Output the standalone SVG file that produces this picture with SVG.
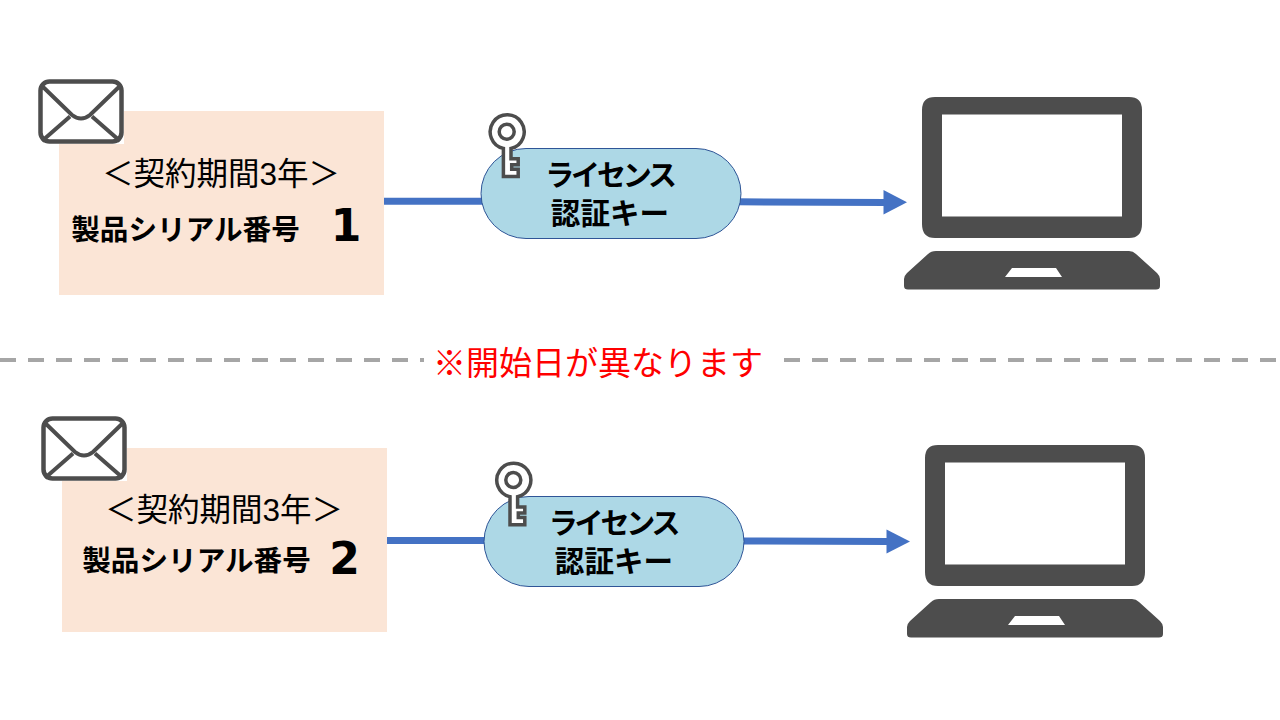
<svg xmlns="http://www.w3.org/2000/svg" width="1280" height="720" viewBox="0 0 1280 720">
<style>
text{font-family:"Liberation Sans","Noto Sans CJK JP",sans-serif;text-anchor:middle;fill:#000}
.b{font-weight:700;font-size:28.600px}
.k{font-weight:700;font-size:29px;letter-spacing:-3.200px}
.a{font-weight:700;font-size:29.600px}
.t{font-size:31.500px}
.n{font-weight:700;font-size:44px;font-family:"DejaVu Sans","Noto Sans CJK JP",sans-serif}
.box{fill:#fbe5d6}
.pill{fill:#add8e6;stroke:#2f5597;stroke-width:1}
.c{fill:none;stroke:#4472c4;stroke-width:7}
.h{fill:#4472c4}
.ic{fill:#fff;stroke:#4d4d4d;stroke-width:3.500;stroke-linejoin:miter}
</style>
<defs>
<g id="env">
<rect x="38" y="79" width="86" height="65" fill="#fff"/>
<rect x="40.500" y="81.500" width="81" height="60" rx="9" fill="#fff" stroke="#4d4d4d" stroke-width="4.500"/>
<path d="M41 85L72 115Q81 122 90 115L121 85M42 141L70 116.500M120 141L92 116.500" fill="none" stroke="#4d4d4d" stroke-width="4"/>
</g>
<g id="key">
<path d="M4.300 16.700A17 17 0 1 0-3.300 16.700V44.800H11.500V37.500H5V33H11.500V27H4.300Z" class="ic"/>
<circle r="7.500" fill="#fff" stroke="#4d4d4d" stroke-width="3.500"/>
</g>
<g id="pc">
<path fill="#4d4d4d" fill-rule="evenodd" d="M935 97H1129Q1142 97 1142 110V224Q1142 238 1129 238H935Q922 238 922 224V110Q922 97 935 97ZM942 114.500V216.500H1122V114.500Z"/>
<path fill="#4d4d4d" fill-rule="evenodd" d="M936 251H1129Q1133 251 1136 254L1157 273Q1160 276 1160 279V286Q1160 289.500 1156 289.500H908Q904 289.500 904 286V279Q904 276 907 273L928 254Q931 251 936 251ZM1012 268L1005 277H1062L1056 268Z"/>
</g>
</defs>
<rect width="1280" height="720" fill="#fff"/>
<g id="connectors">
<path d="M384 201.300H484" class="c"/>
<path d="M738 201.800L886 202.500" class="c"/>
<path d="M883.500 190L907 202.300L883.500 214.500Z" class="h"/>
<path d="M387 540.500H487" class="c"/>
<path d="M741 541L889 541.500" class="c"/>
<path d="M886.500 529.500L910 541.500L886.500 553.500Z" class="h"/>
</g>
<g id="divider">
<path d="M0 360H424M784 360H1276" fill="none" stroke="#a6a6a6" stroke-width="4" stroke-dasharray="16 12"/>
<text x="598" y="375" font-size="33" style="fill:#f00">※開始日が異なります</text>
</g>
<g id="serial1">
<rect x="59" y="111" width="325" height="184" class="box"/>
<use href="#env"/>
<text x="221" y="185" class="t">＜契約期間3年＞</text>
<text x="185.500" y="240" class="b">製品シリアル番号</text>
<text x="346" y="241" class="n">1</text>
</g>
<g id="license1">
<rect x="481" y="148.500" width="260" height="90" rx="45" class="pill"/>
<use href="#key" x="506.700" y="131.700"/>
<text x="609.500" y="186" class="k">ライセンス</text>
<text x="610" y="224" class="a">認証キー</text>
</g>
<g id="laptop1"><use href="#pc"/></g>
<g id="serial2">
<rect x="62" y="448" width="325" height="184" class="box"/>
<use href="#env" x="3" y="337"/>
<text x="224" y="521" class="t">＜契約期間3年＞</text>
<text x="196.500" y="571" class="b">製品シリアル番号</text>
<text x="344.500" y="574" class="n">2</text>
</g>
<g id="license2">
<rect x="484" y="496.500" width="260" height="90" rx="45" class="pill"/>
<use href="#key" x="513.300" y="480"/>
<text x="613" y="534" class="k">ライセンス</text>
<text x="614" y="572" class="a">認証キー</text>
</g>
<g id="laptop2"><use href="#pc" x="3" y="348"/></g>
</svg>
